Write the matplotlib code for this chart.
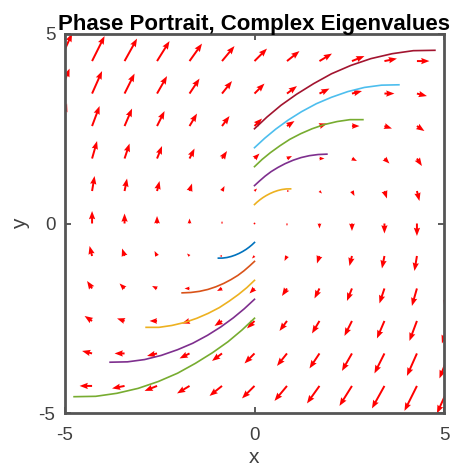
import numpy as np
import matplotlib
matplotlib.use("Agg")
from matplotlib import pyplot as plt

# linear system  x' = a*x + b*y ,  y' = c*x + d*y  (read from the arrow field)
a, b = 0.0, 1.0
c, d = -1.0, 1.0
grid = np.linspace(-6, 6, 15)

# trajectories, starting on the y axis
up_x = [[0, .066, .141, .222, .311, .407, .508, .615, .725, .839, .953],
        [0, .13, .28, .44, .62, .81, 1.02, 1.23, 1.45, 1.68, 1.91],
        [0, .20, .42, .67, .93, 1.22, 1.52, 1.84, 2.18, 2.52, 2.86],
        [0, .27, .56, .89, 1.24, 1.63, 2.03, 2.46, 2.90, 3.35, 3.81],
        [0, .33, .70, 1.11, 1.56, 2.03, 2.54, 3.07, 3.63, 4.19, 4.76]]
up_y = [[.5, .562, .624, .683, .738, .789, .833, .870, .897, .912, .914],
        [1, 1.12, 1.25, 1.37, 1.48, 1.58, 1.67, 1.74, 1.79, 1.82, 1.83],
        [1.5, 1.69, 1.87, 2.05, 2.22, 2.37, 2.50, 2.61, 2.69, 2.74, 2.74],
        [2, 2.25, 2.49, 2.73, 2.95, 3.16, 3.33, 3.48, 3.59, 3.65, 3.66],
        [2.5, 2.81, 3.12, 3.41, 3.69, 3.95, 4.17, 4.35, 4.48, 4.56, 4.57]]
down_x = [[-v for v in row] for row in up_x]
down_y = [[-v for v in row] for row in up_y]

UP_COLORS = ['#EDB120', '#7E2F8E', '#77AC30', '#4DBEEE', '#A2142F']
DOWN_COLORS = ['#0072BD', '#D95319', '#EDB120', '#7E2F8E', '#77AC30']
GREY = '#404040'

fig = plt.figure(figsize=(4.54, 4.75), dpi=100)
ax = fig.add_axes([65/454, 1 - 413/475, 379/454, 379/475])

X, Y = np.meshgrid(grid, grid)
U = a*X + b*Y
V = c*X + d*Y
ax.quiver(X, Y, U, V, color='red', angles='xy', scale_units='xy', scale=13.0,
          width=0.0052, headwidth=3.2, headlength=4.2, headaxislength=3.8)

for i in range(len(down_x)):
    ax.plot(down_x[i], down_y[i], color=DOWN_COLORS[i], linewidth=1.2)
for i in range(len(up_x)):
    ax.plot(up_x[i], up_y[i], color=UP_COLORS[i], linewidth=1.2)

ax.set_xlim(-5, 5)
ax.set_ylim(-5, 5)
ax.set_xticks([-5, 0, 5])
ax.set_yticks([-5, 0, 5])
ax.set_xticklabels(['-5', '0', '5'], family='Liberation Sans')
ax.set_yticklabels(['-5', '0', '5'], family='Liberation Sans')
ax.tick_params(axis='x', pad=10)
ax.tick_params(axis='y', pad=7)
ax.tick_params(direction='in', length=4, width=1.2, colors=GREY, labelsize=13.5,
               top=True, right=True)
for s in ax.spines.values():
    s.set_color('#555555')
    s.set_linewidth(2)
ax.set_xlabel('x', fontsize=15, color=GREY, family='Liberation Sans', labelpad=3)
ax.set_ylabel('y', fontsize=15, color=GREY, family='Liberation Sans', labelpad=6)
ax.set_title('Phase Portrait, Complex Eigenvalues', fontsize=16, fontweight='bold',
             family='Liberation Sans', pad=3)

plt.savefig('out.png', dpi=100)
